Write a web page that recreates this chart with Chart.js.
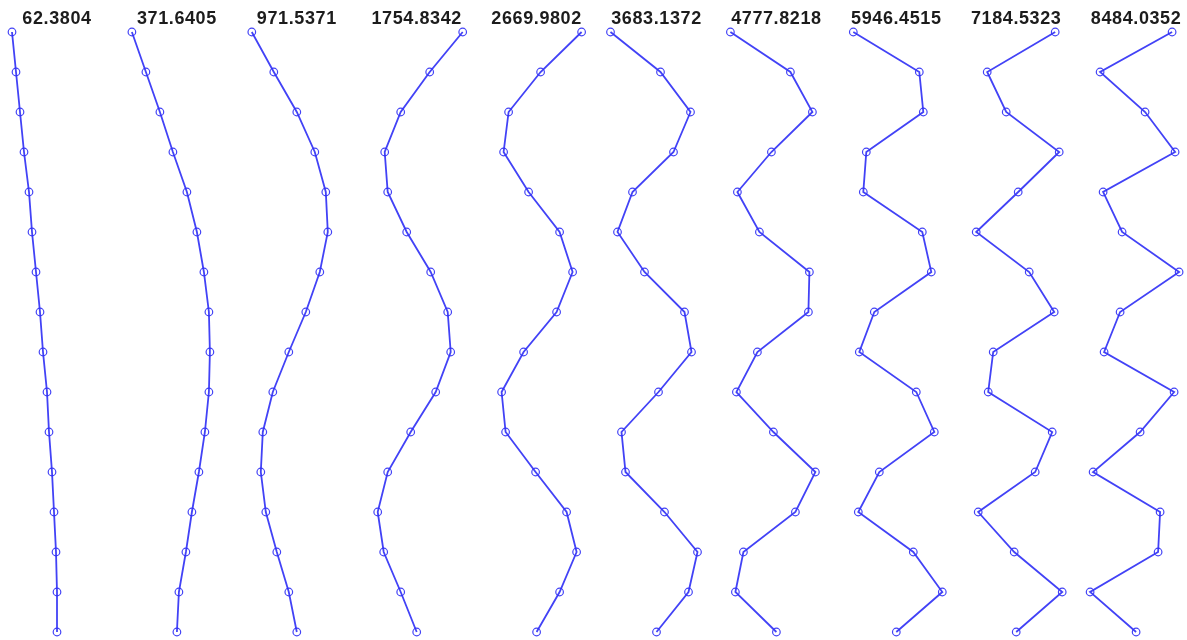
<!DOCTYPE html>
<html>
<head>
<meta charset="utf-8">
<script src="https://cdn.jsdelivr.net/npm/chart.js@4/dist/chart.umd.min.js"></script>
<style>
  html, body { margin: 0; padding: 0; background: #ffffff; }
  #wrap { width: 1187px; height: 640px; }
</style>
</head>
<body>
<div id="wrap"><canvas id="c" width="1187" height="640"></canvas></div>
<script>
// Natural frequencies of the ten modes (column titles)
const frequencies = ['62.3804', '371.6405', '971.5371', '1754.8342', '2669.9802',
                     '3683.1372', '4777.8218', '5946.4515', '7184.5323', '8484.0352'];

// Node levels, listed from top (16) to fixed base (1)
const levels = [16, 15, 14, 13, 12, 11, 10, 9, 8, 7, 6, 5, 4, 3, 2, 1];

// Lateral mode-shape displacements per node, top to base
const mode1  = [-45, -41, -37, -33, -28, -25, -21, -17, -14, -10, -8, -5, -3, -1, 0, 0];
const mode2  = [-45, -31, -17, -4, 10, 20, 27, 32, 33, 32, 28, 22, 15, 9, 2, 0];
const mode3  = [-45, -23, 0, 18, 29, 31, 23, 9, -8, -24, -34, -36, -31, -20, -8, 0];
const mode4  = [46, 13, -16, -32, -29, -10, 14, 31, 34, 19, -6, -29, -39, -33, -16, 0];
const mode5  = [45, 4, -28, -33, -8, 23, 36, 20, -13, -35, -31, -1, 30, 40, 23, 0];
const mode6  = [-46, 4, 34, 17, -24, -39, -12, 28, 35, 2, -35, -31, 8, 41, 32, 0];
const mode7  = [-46, 14, 36, -5, -39, -17, 33, 32, -19, -40, -3, 39, 19, -33, -41, 0];
const mode8  = [-43, 23, 27, -30, -33, 26, 35, -22, -37, 20, 38, -17, -38, 17, 46, 0];
const mode9  = [39, -29, -10, 43, 2, -40, 13, 38, -23, -28, 36, 19, -38, -2, 46, 0];
const mode10 = [36, -36, 9, 39, -33, -14, 43, -16, -32, 38, 4, -43, 24, 22, -46, 0];

const modes = [mode1, mode2, mode3, mode4, mode5, mode6, mode7, mode8, mode9, mode10];

// Each mode is drawn in its own column along the shared x axis
const COLUMN_STEP = 119.9;
const LINE_COLOR = 'rgba(50, 50, 245, 0.92)';

const datasets = modes.map((shape, k) => ({
  label: frequencies[k],
  data: shape.map((d, i) => ({ x: k * COLUMN_STEP + d, y: levels[i] })),
  showLine: true,
  borderColor: LINE_COLOR,
  borderWidth: 1.8,
  pointRadius: 3.8,
  pointBorderWidth: 1.2,
  pointBorderColor: LINE_COLOR,
  pointBackgroundColor: 'rgba(0,0,0,0)',
  pointStyle: 'circle',
  tension: 0,
  clip: false
}));

// Frequency label above each column
const columnTitles = {
  id: 'columnTitles',
  afterDatasetsDraw(chart) {
    const ctx = chart.ctx;
    const xs = chart.scales.x;
    ctx.save();
    ctx.fillStyle = '#1c1c1c';
    ctx.font = 'bold 18px "Liberation Sans", Arial, sans-serif';
    if ('letterSpacing' in ctx) ctx.letterSpacing = '0.6px';
    ctx.textAlign = 'center';
    ctx.textBaseline = 'alphabetic';
    frequencies.forEach((f, k) => {
      ctx.fillText(f, xs.getPixelForValue(k * COLUMN_STEP), 23.5);
    });
    ctx.restore();
  }
};

new Chart(document.getElementById('c'), {
  type: 'scatter',
  data: { datasets },
  options: {
    responsive: false,
    animation: false,
    events: [],
    layout: { padding: 0, autoPadding: false },
    plugins: {
      legend: { display: false },
      title: { display: false },
      tooltip: { enabled: false }
    },
    scales: {
      x: { type: 'linear', display: false, min: -57, max: 1130 },
      y: { type: 'linear', display: false, min: 0.8, max: 16.8 }
    }
  },
  plugins: [columnTitles]
});
</script>
</body>
</html>
